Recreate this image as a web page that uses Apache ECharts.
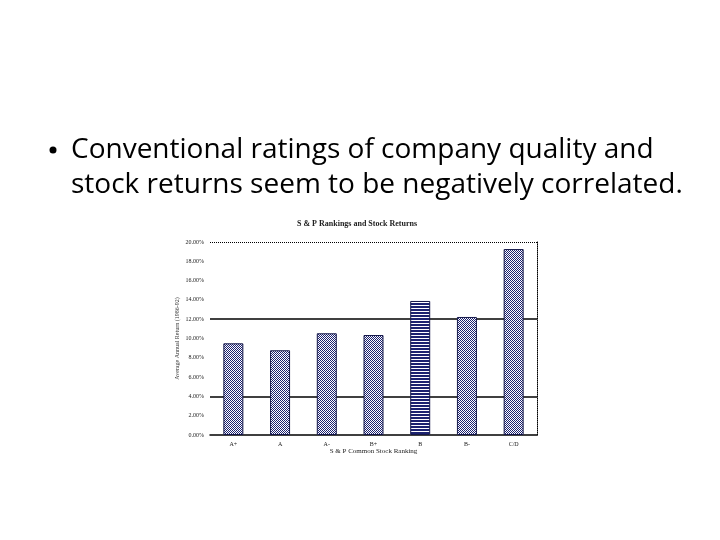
<!DOCTYPE html>
<html>
<head>
<meta charset="utf-8">
<script src="https://cdn.jsdelivr.net/npm/echarts@6/dist/echarts.min.js"></script>
<style>
  html, body { margin: 0; padding: 0; background: #fff; }
  #chart { width: 720px; height: 540px; }
</style>
</head>
<body>
<div id="chart"></div>
<script>
// S&P ranking categories and average annual returns (%)
const categories = ['A+', 'A', 'A-', 'B+', 'B', 'B-', 'C/D']
const returns = [9.5, 8.78, 10.54, 10.36, 13.89, 12.23, 19.27]
const solidLines = [4, 12]
const dottedLines = [20]

// small bitmap fills like the old spreadsheet hatch
function makePattern(rows) {
  const c = document.createElement('canvas')
  c.width = rows[0].length
  c.height = rows.length
  const ctx = c.getContext('2d')
  rows.forEach((r, y) => {
    for (let x = 0; x < r.length; x++) {
      ctx.fillStyle = r[x] === '1' ? '#1c2270' : '#ffffff'
      ctx.fillRect(x, y, 1, 1)
    }
  })
  return { image: c, repeat: 'repeat' }
}
const checker = makePattern(['10', '01'])
const stripes = makePattern(['11', '11', '00'])

const chart = echarts.init(document.getElementById('chart'))

chart.setOption({
  backgroundColor: '#FFFFFF',
  animation: false,
  title: {
    text: 'S & P Rankings and Stock Returns',
    left: 352,
    top: 215,
    textAlign: 'center',
    textStyle: { fontFamily: 'Liberation Serif', fontSize: 8, fontWeight: 'bold', color: '#222' }
  },
  graphic: [
    { type: 'circle', shape: { cx: 53, cy: 150, r: 3.5 }, style: { fill: '#000' } },
    {
      type: 'text', left: 71, top: 136,
      style: { text: 'Conventional ratings of company quality and', font: '28px "Open Sans"', fill: '#000' }
    },
    {
      type: 'text', left: 71, top: 171,
      style: { text: 'stock returns seem to be negatively correlated.', font: '28px "Open Sans"', fill: '#000' }
    }
  ],
  grid: { left: 210, right: 183, top: 242, bottom: 105 },
  xAxis: {
    type: 'category',
    data: categories,
    name: 'S & P Common Stock Ranking',
    nameLocation: 'middle',
    nameGap: 13,
    nameTextStyle: { fontFamily: 'Liberation Serif', fontSize: 7, color: '#222' },
    axisLine: { lineStyle: { color: '#000', width: 1.5 } },
    axisTick: { show: false },
    axisLabel: { fontFamily: 'Liberation Serif', fontSize: 6, color: '#222', margin: 6 }
  },
  yAxis: [
    {
      type: 'value',
      min: 0,
      max: 20,
      interval: 2,
      name: 'Average Annual Return (1986-92)',
      nameLocation: 'middle',
      nameRotate: 90,
      nameGap: 30,
      nameTextStyle: { fontFamily: 'Liberation Serif', fontSize: 6, color: '#333' },
      axisLine: { show: false },
      axisTick: { show: false },
      splitLine: { show: false },
      axisLabel: {
        fontFamily: 'Liberation Serif', fontSize: 6, color: '#222', margin: 6,
        formatter: v => v.toFixed(2) + '%'
      }
    },
    {
      type: 'value',
      min: 0,
      max: 20,
      interval: 2,
      position: 'right',
      axisLine: { show: true, lineStyle: { color: '#000', type: 'dotted', width: 1 } },
      axisTick: { show: false },
      axisLabel: { show: false },
      splitLine: { show: false }
    }
  ],
  series: [
    {
      // reference lines drawn beneath the bars
      name: 'lines',
      type: 'bar',
      data: [],
      z: 1,
      markLine: {
        silent: true,
        symbol: 'none',
        label: { show: false },
        data: solidLines.map(v => ({ yAxis: v, lineStyle: { color: '#000', type: 'solid', width: 1.5 } }))
          .concat(dottedLines.map(v => ({ yAxis: v, lineStyle: { color: '#000', type: 'dotted', width: 1 } })))
      }
    },
    {
      name: 'Average Annual Return',
      type: 'bar',
      barWidth: 20,
      barGap: '-100%',
      data: returns.map((v, i) => ({
        value: v,
        itemStyle: { color: categories[i] === 'B' ? stripes : checker }
      })),
      itemStyle: { borderColor: '#15184a', borderWidth: 1 },
      z: 5
    }
  ]
})
</script>
</body>
</html>
